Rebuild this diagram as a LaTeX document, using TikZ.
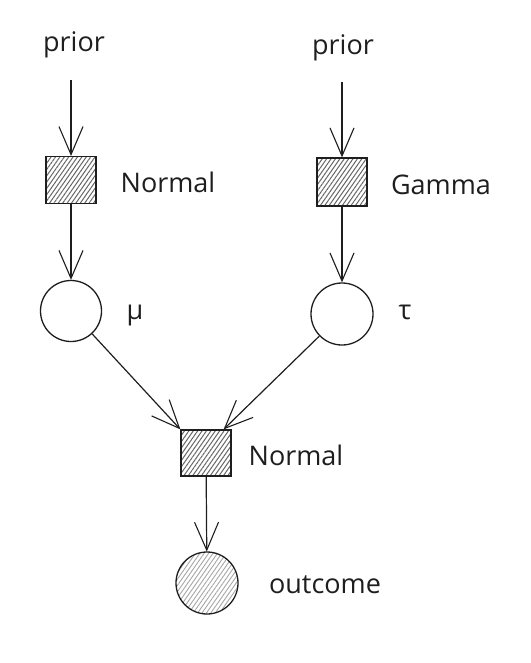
\documentclass[tikz,border=0pt]{standalone}
\usepackage{fontspec}
\setmainfont{Open Sans}
\usetikzlibrary{arrows.meta,patterns.meta}
\definecolor{ink}{HTML}{1E1E1E}
\begin{document}
\begin{tikzpicture}[x=1pt,y=-1pt,
  ink/.style={draw=ink,line width=1.3pt},
  factor/.style={ink,rectangle,minimum width=50pt,minimum height=47pt,inner sep=0pt,
    pattern={Lines[angle=55,distance=3.6pt,line width=1pt]},pattern color=black!60},
  latent/.style={ink,circle,minimum size=61pt,inner sep=0pt,fill=white},
  observed/.style={ink,circle,minimum size=62pt,inner sep=0pt,
    pattern={Lines[angle=55,distance=3.6pt,line width=0.9pt]},pattern color=black!35},
  lbl/.style={font=\fontsize{27}{30}\selectfont,text=ink,inner sep=0pt},
  conn/.style={ink,line width=1.2pt,-{Straight Barb[length=28pt,width=24pt,line width=1.1pt]}}]
\useasboundingbox (0,0) rectangle (530,663);
\node[lbl] (p1) at (74,45) {prior};
\node[lbl] (p2) at (343,48) {prior};
\coordinate (s1) at (71,80);
\coordinate (s2) at (342,82);
\node[factor] (f1) at (71,180) {};
\node[factor,minimum height=48pt] (f2) at (342,182) {};
\node[latent] (mu) at (71,311) {};
\node[latent,minimum size=62pt] (tau) at (342,314) {};
\node[factor,minimum height=46pt] (f3) at (206,453) {};
\node[observed] (out) at (207,583) {};
\node[lbl] (l1) at (168,182) {Normal};
\node[lbl] (l2) at (441,185) {Gamma};
\node[lbl] (lmu) at (135,316) {μ};
\node[lbl] (ltau) at (405,312) {τ};
\node[lbl] (l3) at (296,455) {Normal};
\node[lbl] (lout) at (325,585) {outcome};
\draw[conn] (s1) -- (f1);
\draw[conn] (s2) -- (f2);
\draw[conn] (f1) -- (mu);
\draw[conn] (f2) -- (tau);
\draw[conn] (mu) -- (f3.north west);
\draw[conn] (tau) -- ([xshift=-8pt]f3.north east);
\draw[conn] (f3) -- (out);
\end{tikzpicture}
\end{document}
